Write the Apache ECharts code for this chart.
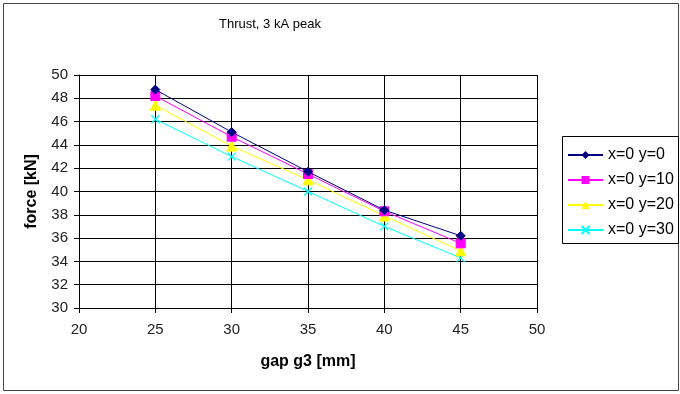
<!DOCTYPE html>
<html><head><meta charset="utf-8">
<script src="https://cdn.jsdelivr.net/npm/echarts@6/dist/echarts.min.js"></script>
<style>html,body{margin:0;padding:0;background:#fff}#c{width:680px;height:394px}</style>
</head><body><div id="c"></div>
<script>
const gaps = [25, 30, 35, 40, 45];
const seriesNames = ['x=0 y=0', 'x=0 y=10', 'x=0 y=20', 'x=0 y=30'];
const y0 = [48.75, 45.1, 41.7, 38.4, 36.2];
const y10 = [48.2, 44.7, 41.5, 38.3, 35.55];
const y20 = [47.4, 43.9, 41.0, 37.9, 34.9];
const y30 = [46.2, 43.0, 40.0, 37.0, 34.3];
const xTicks = [20, 25, 30, 35, 40, 45, 50];
const yTicks = [30, 32, 34, 36, 38, 40, 42, 44, 46, 48, 50];

const colors = ['#000080', '#FF00FF', '#FFFF00', '#00FFFF'];
const symbols = ['diamond', 'rect', 'triangle', 'path://M0,0L10,10M10,0L0,10'];
const sizes = [9, 9, 10, 8];
const vals = [y0, y10, y20, y30];

const chart = echarts.init(document.getElementById('c'), null, {renderer: 'canvas'});
const font = 'Liberation Sans, Arial, sans-serif';
chart.setOption({
  animation: false,
  backgroundColor: '#fff',
  title: {
    text: 'Thrust, 3 kA peak', left: 214, top: 13,
    textStyle: {fontFamily: font, fontSize: 13, fontWeight: 'normal', color: '#000'}
  },
  grid: {left: 79, right: 143, top: 75, bottom: 86, containLabel: false},
  xAxis: {
    type: 'value', min: xTicks[0], max: xTicks[xTicks.length - 1], interval: 5,
    name: 'gap g3 [mm]', nameLocation: 'middle', nameGap: 46,
    nameTextStyle: {fontFamily: font, fontSize: 16, fontWeight: 'bold', color: '#000'},
    axisLine: {lineStyle: {color: '#000', width: 1}},
    axisTick: {show: true, length: 5, inside: false, lineStyle: {color: '#000'}},
    axisLabel: {fontFamily: font, fontSize: 15, color: '#222', margin: 14},
    splitLine: {show: true, lineStyle: {color: '#000', width: 1}}
  },
  yAxis: {
    type: 'value', min: yTicks[0], max: yTicks[yTicks.length - 1], interval: 2,
    name: 'force [kN]', nameLocation: 'middle', nameGap: 39, nameRotate: 90,
    nameTextStyle: {fontFamily: font, fontSize: 16, fontWeight: 'bold', color: '#000'},
    axisLine: {show: true, lineStyle: {color: '#000', width: 1}},
    axisTick: {show: true, length: 5, lineStyle: {color: '#000'}},
    axisLabel: {fontFamily: font, fontSize: 15, color: '#222', margin: 11},
    splitLine: {show: true, lineStyle: {color: '#000', width: 1}}
  },
  legend: {
    orient: 'vertical', left: 562, top: 142,
    itemWidth: 35, itemHeight: 10, itemGap: 9,
    textStyle: {fontFamily: font, fontSize: 16, color: '#000'},
    data: seriesNames
  },
  graphic: [
    {type: 'rect', shape: {x: 3.5, y: 3.5, width: 675, height: 387}, style: {fill: 'none', stroke: '#444', lineWidth: 1}, silent: true, z: -1},
    {type: 'rect', shape: {x: 562.5, y: 136.5, width: 116, height: 107}, style: {fill: 'none', stroke: '#000', lineWidth: 1}, silent: true}
  ],
  series: seriesNames.map((n, i) => ({
    name: n, type: 'line',
    data: gaps.map((g, j) => [g, vals[i][j]]),
    symbol: symbols[i], symbolSize: sizes[i], showSymbol: true,
    lineStyle: {color: colors[i], width: 1},
    itemStyle: i === 3 ? {color: 'transparent', borderColor: colors[i], borderWidth: 1.2} : {color: colors[i], borderColor: colors[i]},
    z: 10 - i
  }))
});
</script></body></html>
